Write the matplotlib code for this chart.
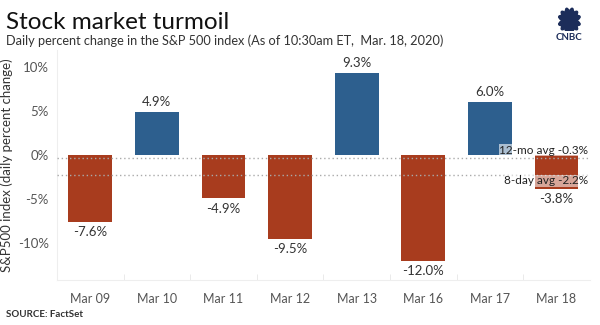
import matplotlib.pyplot as plt
from matplotlib.patches import Ellipse

plt.rcParams['font.family'] = ['Lato', 'DejaVu Sans']

# data
days = ["Mar 09", "Mar 10", "Mar 11", "Mar 12", "Mar 13", "Mar 16", "Mar 17", "Mar 18"]
changes = [-7.6, 4.9, -4.9, -9.5, 9.3, -12.0, 6.0, -3.8]
avg_12mo = -0.3
avg_8day = -2.2
yticks = [-10, -5, 0, 5, 10]

blue = "#2d5f8e"
red = "#a83c1e"

fig = plt.figure(figsize=(6, 3.25), dpi=100)
ax = fig.add_axes([0.095, 0.138, 0.888, 0.707])

x = list(range(len(days)))
colors = [blue if v > 0 else red for v in changes]
ax.bar(x, changes, width=0.66, color=colors, zorder=2)

for i, v in enumerate(changes):
    if v > 0:
        ax.text(i, v + 0.5, f"{v:.1f}%", ha="center", va="bottom", fontsize=9.5, color="#333333")
    else:
        ax.text(i, v - 0.5, f"{v:.1f}%", ha="center", va="top", fontsize=9.5, color="#333333")

# average lines
ax.axhline(avg_12mo, color="#aaaaaa", ls=(0, (1, 2)), lw=1, zorder=3)
ax.axhline(avg_8day, color="#aaaaaa", ls=(0, (1, 2)), lw=1, zorder=3)
ax.text(7.48, avg_12mo + 0.25, f"12-mo avg {avg_12mo}%", ha="right", va="bottom", fontsize=8.5,
        color="#222222", zorder=4,
        bbox=dict(facecolor="white", edgecolor="none", alpha=0.6, pad=0.3))
ax.text(7.48, avg_8day - 0.1, f"8-day avg {avg_8day}%", ha="right", va="top", fontsize=8.5,
        color="#222222", zorder=4,
        bbox=dict(facecolor="white", edgecolor="none", alpha=0.55, pad=0.3))

ax.set_xlim(-0.5, 7.5)
ax.set_ylim(-14.2, 11.9)
ax.set_yticks(yticks)
ax.set_yticklabels([f"{t}%" for t in yticks], fontsize=9.5, color="#555555")
ax.set_xticks(x)
ax.set_xticklabels(days, fontsize=9, color="#555555")
ax.set_xticks([i + 0.5 for i in x[:-1]], minor=True)
ax.tick_params(axis="x", which="major", length=0, pad=9)
ax.tick_params(axis="x", which="minor", length=4, color="#e6e6e6", direction="in")
ax.tick_params(axis="y", length=0, pad=6)
for s in ["top", "right"]:
    ax.spines[s].set_visible(False)
ax.spines["left"].set_color("#eeeeee")
ax.spines["bottom"].set_color("#eeeeee")
ax.set_ylabel("S&P500 index (daily percent change)", fontsize=9.5, color="#333333", labelpad=3)

# titles
fig.text(0.01, 0.912, "Stock market turmoil", fontsize=17.5, color="#111111")
fig.text(0.01, 0.862, "Daily percent change in the S&P 500 index (As of 10:30am ET,  Mar. 18, 2020)",
         fontsize=9.2, color="#333333")
fig.text(0.01, 0.025, "SOURCE: FactSet", fontsize=7, color="#333333", fontweight="bold")

# logo
lax = fig.add_axes([0.915, 0.905, 0.068, 0.085])
lax.set_xlim(-1, 1)
lax.set_ylim(-0.1, 1.1)
lax.axis("off")
for ang in [-72, -45, -15, 15, 45, 72]:
    lax.add_patch(Ellipse((0, 0.35), 0.3, 1.1, angle=ang, color="#1c2d5a"))
fig.text(0.949, 0.878, "CNBC", fontsize=7, fontweight="bold", color="#1c2d5a", ha="center")

fig.savefig("out.png", dpi=100)
